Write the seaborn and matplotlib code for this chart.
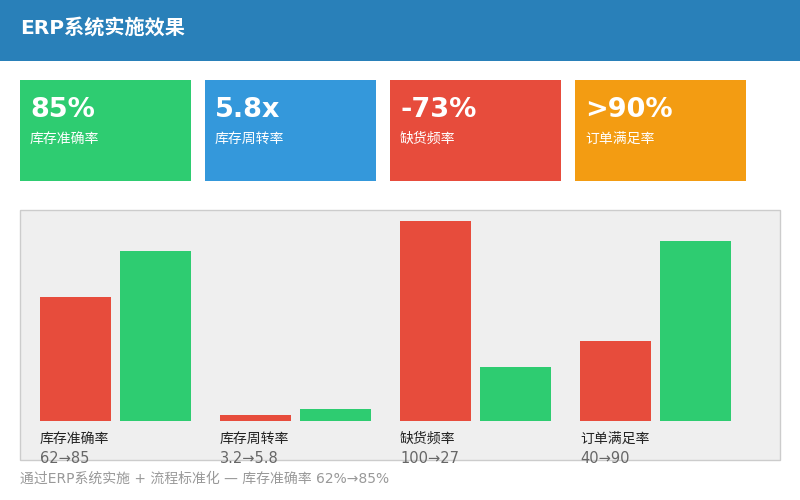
import matplotlib
matplotlib.use("Agg")
import matplotlib.pyplot as plt
from matplotlib.patches import Rectangle
import seaborn as sns
import pandas as pd

sns.set_theme(style="white")
# DejaVu for latin glyphs, CJK font for the Chinese ones
plt.rcParams['font.family'] = ['DejaVu Sans', 'Noto Sans CJK SC']

# 数据
title = 'ERP系统实施效果'
kpi_values = ['85%', '5.8x', '-73%', '>90%']
kpi_labels = ['库存准确率', '库存周转率', '缺货频率', '订单满足率']
kpi_colors = ['#2ecc71', '#3498db', '#e74c3c', '#f39c12']

metrics = ['库存准确率', '库存周转率', '缺货频率', '订单满足率']
before = [62, 3.2, 100, 40]
after = [85, 5.8, 27, 90]
change_labels = ['62→85', '3.2→5.8', '100→27', '40→90']
footer = '通过ERP系统实施 + 流程标准化 — 库存准确率 62%→85%'

df = pd.DataFrame({
    'metric': metrics * 2,
    'stage': ['before'] * len(metrics) + ['after'] * len(metrics),
    'value': before + after,
})

fig = plt.figure(figsize=(8, 5), dpi=100)

# 背景层 (像素坐标)
bg = fig.add_axes([0, 0, 1, 1])
bg.set_xlim(0, 800)
bg.set_ylim(500, 0)
bg.axis('off')

bg.add_patch(Rectangle((0, 0), 800, 61, color='#2980b9', lw=0))
bg.text(20, 34, title, color='white', fontsize=14.5, fontweight='bold', va='baseline')

for i, (val, lab, col) in enumerate(zip(kpi_values, kpi_labels, kpi_colors)):
    x0 = 20 + i * 185
    bg.add_patch(Rectangle((x0, 80), 171, 101, color=col, lw=0))
    bg.text(x0 + 10, 117, val, color='white', fontsize=19.5, fontweight='bold', va='baseline')
    bg.text(x0 + 10, 143, lab, color='white', fontsize=10, va='baseline')

bg.add_patch(Rectangle((20, 210), 760, 250, facecolor='#efefef', edgecolor='#cccccc', lw=1))
bg.text(20, 483, footer, color='#999999', fontsize=10, va='baseline')

# 柱状图
ax = fig.add_axes([25.5 / 800, 79 / 500, 720 / 800, 200 / 500])
ax.patch.set_visible(False)
sns.barplot(data=df, x='metric', y='value', hue='stage', order=metrics,
            hue_order=['before', 'after'],
            palette={'before': '#e74c3c', 'after': '#2ecc71'},
            width=0.889, gap=0.1125, saturation=1, errorbar=None,
            linewidth=0, legend=False, ax=ax)
ax.set_xlim(-0.5, 3.5)
ax.set_ylim(0, 100)
ax.axis('off')

bars = sorted([p for p in ax.patches if p.get_width() > 0], key=lambda p: p.get_x())
for i, (name, ch) in enumerate(zip(metrics, change_labels)):
    x = bars[2 * i].get_x()
    ax.text(x, -11, name, color='#222222', fontsize=10, va='baseline', clip_on=False)
    ax.text(x, -21, ch, color='#666666', fontsize=10.5, va='baseline', clip_on=False)

fig.savefig('out.png', dpi=100)
